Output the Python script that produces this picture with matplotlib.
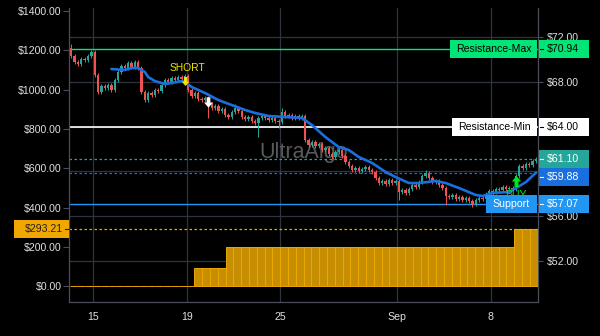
import matplotlib
matplotlib.use('Agg')
import matplotlib.pyplot as plt
from matplotlib.patches import Rectangle
from matplotlib.transforms import IdentityTransform
from matplotlib.path import Path
import numpy as np

plt.rcParams['font.family'] = ['Liberation Sans', 'DejaVu Sans']

# ---- data ----
# hourly price bars, 7 per trading day, Aug 12 .. Sep 9
bars_per_day = 7
first_open = 71.04
closes = [70.32, 69.78, 69.61, 70.05, 69.96, 70.32, 70.68,
          68.62, 67.10, 67.64, 67.46, 67.73, 67.28, 68.17,
          68.89, 69.43, 69.25, 69.70, 69.34, 69.78, 69.25,
          67.10, 66.38, 67.01, 66.83, 67.28, 67.19, 67.73,
          68.17, 67.99, 68.35, 68.17, 68.44, 68.26, 68.53,
          67.28, 66.74, 67.01, 66.47, 66.38, 66.56, 66.02,
          65.67, 65.84, 65.40, 65.58, 65.04, 64.86, 65.31,
          65.67, 65.40, 64.86, 64.68, 64.86, 64.50, 64.32,
          64.77, 64.95, 64.77, 64.59, 64.77, 64.50, 64.41,
          65.31, 64.95, 65.04, 64.77, 64.95, 64.77, 64.95,
          62.80, 62.35, 62.62, 62.26, 62.44, 61.91, 62.09,
          61.55, 61.28, 61.73, 61.91, 61.37, 60.83, 60.47,
          60.12, 60.30, 60.03, 60.21, 60.38, 60.12, 59.94,
          59.40, 58.95, 59.13, 58.86, 59.22, 58.95, 59.13,
          58.15, 58.33, 58.06, 58.41, 58.77, 58.58, 59.04,
          59.58, 59.85, 59.40, 59.04, 59.13, 58.77, 58.50,
          57.79, 57.70, 57.88, 57.52, 57.70, 57.43, 57.61,
          57.34, 57.07, 57.43, 57.61, 57.52, 57.97, 58.24,
          58.15, 58.41, 58.33, 58.58, 58.41, 58.50, 58.41,
          59.58, 60.47, 60.30, 60.65, 60.56, 60.92, 61.10]
spike_highs = {0: 71.40, 49: 66.02, 63: 65.67, 106: 60.12}
spike_lows = {41: 64.77, 56: 63.07, 62: 63.88, 98: 57.43, 112: 56.97, 120: 56.80, 126: 56.97}

ma_bars = [12, 16, 18, 20, 22, 23, 25, 28, 30, 33, 34, 36, 40, 44, 48, 52, 55, 59, 64, 69,
           72, 76, 80, 83, 86, 90, 94, 97, 101, 104, 109, 112, 116, 121, 123, 126, 131, 133,
           136, 139]
ma_values = [69.16, 69.07, 69.25, 69.25, 68.89, 68.44, 68.08, 67.82, 67.91, 68.08,
             67.99, 67.55, 67.01, 66.38, 65.93, 65.49, 65.22, 64.95, 64.86, 64.77,
             64.14, 63.07, 62.17, 61.91, 61.28, 60.74, 59.94, 59.49, 58.95, 58.95,
             59.13, 58.95, 58.50, 57.88, 57.79, 58.06, 58.15, 58.50, 59.04, 59.88]

# equity columns, 3 per trading day
eq_per_day = 3
equity = [0.0] * 16 + [91.6] * 4 + [202.0] * 37 + [293.21] * 3

day_ticks = [1, 5, 9, 14, 18]
day_labels = ['15', '19', '25', 'Sep', '8']

price_ticks = [52, 56, 60, 64, 68, 72]
equity_ticks = [0, 200, 400, 600, 800, 1000, 1200, 1400]

res_max = 70.94
res_min = 64.00
support = 57.07
last_price = 61.10
ma_last = 59.88
equity_last = 293.21

short_bar, short_price = 34, 68.09
exit_bar, exit_price = 41, 66.20
buy_bar, buy_price = 133, 59.09

# ---- colours ----
GREEN = '#26a69a'
RED = '#ef5350'
MA_BLUE = '#1a6fdf'
SUP_BLUE = '#2196f3'
RMAX = '#00e676'
GOLD = '#c68e00'
GOLD_EDGE = '#eaa800'
ORANGE = '#f0a800'
GRID = '#2f3340'
SPINE = '#4a4e5a'
TXT = '#e0e0e0'

W, H = 600, 336
L, R, B, T = 69, 538, 302, 8

fig = plt.figure(figsize=(W / 100, H / 100), dpi=100, facecolor='black')
ax = fig.add_axes([L / W, 1 - B / H, (R - L) / W, (B - T) / H])
ax.set_facecolor('black')
ax_eq = ax.twinx()
ax_eq.patch.set_visible(False)

ax.set_xlim(-0.68, 139.6)
ax.set_ylim(48.30, 74.62)
ax_eq.set_ylim(-80, 1416)

# grid + ticks
ax.set_yticks(price_ticks)
# $60 and $64 sit under the price tags
ax.set_yticklabels(['' if v in (60, 64) else f'${v:.2f}' for v in price_ticks])
ax.set_xticks([d * bars_per_day - 0.5 for d in day_ticks])
ax.set_xticklabels(day_labels)
ax.grid(True, color=GRID, lw=0.9, zorder=0)
ax.set_axisbelow(True)

ax.yaxis.tick_right()
ax.tick_params(axis='y', length=3.6, width=0.8, color=SPINE, labelcolor=TXT, labelsize=7.6, pad=3)
ax.tick_params(axis='x', length=0, labelcolor=TXT, labelsize=7.6, pad=7)
for s in ['top', 'left']:
    ax.spines[s].set_visible(False)
for s in ['right', 'bottom']:
    ax.spines[s].set_color(SPINE)
    ax.spines[s].set_linewidth(0.9)

ax_eq.yaxis.tick_left()
ax_eq.set_yticks(equity_ticks)
ax_eq.set_yticklabels([f'${v:.2f}' for v in equity_ticks])
ax_eq.tick_params(axis='y', length=4.3, width=0.8, color=SPINE, labelcolor=TXT, labelsize=7.6, pad=1)
for s in ['top', 'right', 'bottom']:
    ax_eq.spines[s].set_visible(False)
ax_eq.spines['left'].set_color(SPINE)
ax_eq.spines['left'].set_linewidth(0.9)

# watermark
ax.text(0.501, 0.51, 'UltraAlgo', transform=ax.transAxes, fontsize=15.5,
        color='#595959', ha='center', va='center', zorder=1)

# candles
c = np.array(closes)
o = np.array([first_open] + closes[:-1])
x = np.arange(len(c))
cols = np.where(c >= o, GREEN, RED)
hi = np.array([spike_highs.get(i, max(o[i], c[i]) + 0.18) for i in x])
lo = np.array([spike_lows.get(i, min(o[i], c[i]) - 0.18) for i in x])
ax.vlines(x, lo, hi, colors=cols, lw=0.7, zorder=3)
ax.bar(x, np.maximum(np.abs(c - o), 0.05), bottom=np.minimum(o, c), width=0.7,
       color=cols, lw=0, zorder=3)

# moving average
ax.plot(ma_bars, ma_values, color=MA_BLUE, lw=1.9, zorder=4, solid_capstyle='round')

# levels
ax.axhline(res_max, color=RMAX, lw=1.0, zorder=2)
ax.axhline(res_min, color='white', lw=1.2, zorder=2)
ax.axhline(support, color=SUP_BLUE, lw=1.0, zorder=2)
ax.axhline(last_price, color=GREEN, lw=0.9, ls=(0, (2, 2)), zorder=2)
ax.axhline(ma_last, color=MA_BLUE, lw=0.9, ls=(0, (2, 2)), zorder=2)

# equity columns
cw = bars_per_day / eq_per_day
lefts = [-0.5 + j * cw for j in range(len(equity))]
ax_eq.bar(lefts, equity, width=cw, align='edge', color=GOLD, edgecolor=GOLD_EDGE,
          lw=0.7, zorder=2)
ax_eq.axhline(equity_last, color=ORANGE, lw=0.9, ls=(0, (2, 2)), zorder=2)

# signal markers
down = Path([(-0.18, 0.5), (0.18, 0.5), (0.18, 0.0), (0.42, 0.0), (0, -0.5),
             (-0.42, 0.0), (-0.18, 0.0), (-0.18, 0.5)], closed=True)
up = Path([(vx, -vy) for vx, vy in down.vertices], closed=True)
ax.plot(short_bar, short_price, marker=down, ms=6.5, color='#f0e600', mec='none', zorder=6)
ax.annotate('SHORT', (short_bar, short_price), xytext=(1.5, 9), textcoords='offset points',
            ha='center', va='center', color='#f0e600', fontsize=7.4, zorder=6)
ax.plot(exit_bar, exit_price, marker=down, ms=7.5, color='white', mec='none', zorder=6)
ax.plot(buy_bar, buy_price, marker=up, ms=8, color='#00e61e', mec='none', zorder=6)
ax.annotate('BUY', (buy_bar, buy_price), xytext=(0, -9.5), textcoords='offset points',
            ha='center', va='center', color='#00e61e', fontsize=7.6, zorder=6)


# price tags drawn in pixel space
def px_y(a, val):
    return a.transData.transform((0, val))[1]


def box(x0, w, yc, bg):
    fig.add_artist(Rectangle((x0, yc - 9), w, 18, transform=IdentityTransform(),
                             facecolor=bg, edgecolor='none', zorder=5))


def label(xp, yc, s, fg, ha):
    fig.text(xp, yc, s, transform=IdentityTransform(), color=fg, fontsize=7.6,
             ha=ha, va='center', zorder=6)


def dash(x0, x1, yc, fg):
    fig.add_artist(plt.Line2D([x0, x1], [yc, yc], transform=IdentityTransform(),
                              color=fg, lw=0.8, zorder=6))


tags = [(res_max, RMAX, 'black', 'Resistance-Max', 450),
        (res_min, 'white', 'black', 'Resistance-Min', 452),
        (last_price, GREEN, 'white', None, None),
        (ma_last, MA_BLUE, 'white', None, None),
        (support, SUP_BLUE, 'white', 'Support', 486)]
prev = None
for val, bg, fg, name, nx in tags:
    yc = px_y(ax, val)
    if prev is not None and prev - yc < 18:
        yc = prev - 18
    prev = yc
    box(538.5, 50, yc, bg)
    dash(539.5, 543, yc, fg)
    label(547, yc, f'${val:.2f}', fg, 'left')
    if name:
        box(nx, 537 - nx, yc, bg)
        label((nx + 537) / 2, yc, name, fg, 'center')

yc = px_y(ax_eq, equity_last)
box(14, 55, yc, ORANGE)
dash(64.5, 69, yc, '#222222')
label(62.5, yc, f'${equity_last:.2f}', '#222222', 'right')

fig.savefig('out.png', dpi=100, facecolor='black')
